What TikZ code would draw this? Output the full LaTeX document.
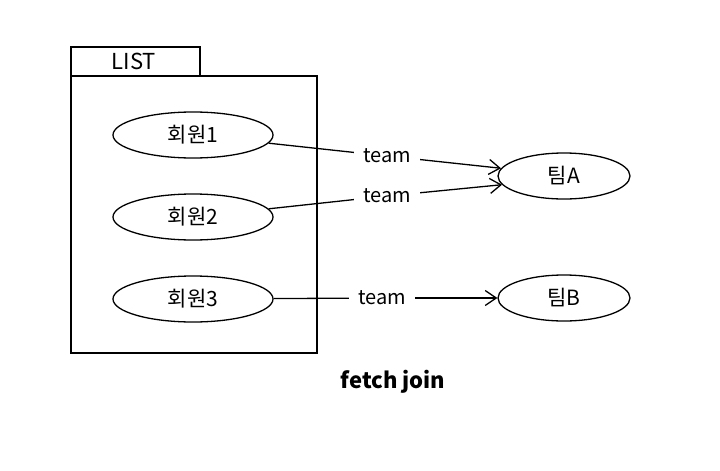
\documentclass[tikz,border=0pt]{standalone}
\usepackage{fontspec}
\setmainfont{Noto Sans CJK KR}
\usetikzlibrary{arrows.meta,positioning,shapes.geometric}

\tikzset{
    entity/.style={draw, ellipse, line width=1.3pt, minimum width=160pt, minimum height=46pt, font=\fontsize{21}{24}\selectfont},
    teamnode/.style={draw, ellipse, line width=1.3pt, minimum width=132pt, minimum height=46pt, font=\fontsize{21}{24}\selectfont},
    rel/.style={font=\fontsize{20}{22}\selectfont, inner xsep=9pt, inner ysep=5pt},
    link/.style={line width=1.3pt},
}

\begin{document}
\begin{tikzpicture}[x=1pt, y=-1pt, >={Straight Barb[length=11pt, width=15pt, line width=1.3pt]}]
    \useasboundingbox[fill=white] (0,0) rectangle (720,471);

    % list box with its tab
    \draw[line width=1.3pt] (71,76) rectangle (317,353);
    \draw[line width=1.3pt] (71,47) rectangle (200,76);
    \node[font=\fontsize{22}{24}\selectfont] (list) at (134,61.5) {LIST};

    \node[entity] (m1) at (193,135) {회원1};
    \node[entity] (m2) at (193,217) {회원2};
    \node[entity] (m3) at (193,299) {회원3};

    \node[teamnode] (ta) at (564,176) {팀A};
    \node[teamnode] (tb) at (564,298) {팀B};

    \node[rel] (r1) at (387,156) {team};
    \node[rel] (r2) at (387,196) {team};
    \node[rel] (r3) at (382,298) {team};

    \draw[link] (m1) -- (r1);
    \draw[link, ->] (r1) -- (ta.173);
    \draw[link] (m2) -- (r2);
    \draw[link, ->] (r2) -- (ta.188);
    \draw[link] (m3) -- (r3);
    \draw[link, ->] (r3) -- (tb);

    \node[font=\fontsize{22}{24}\selectfont\bfseries] (cap) at (393,382) {fetch join};
\end{tikzpicture}
\end{document}
